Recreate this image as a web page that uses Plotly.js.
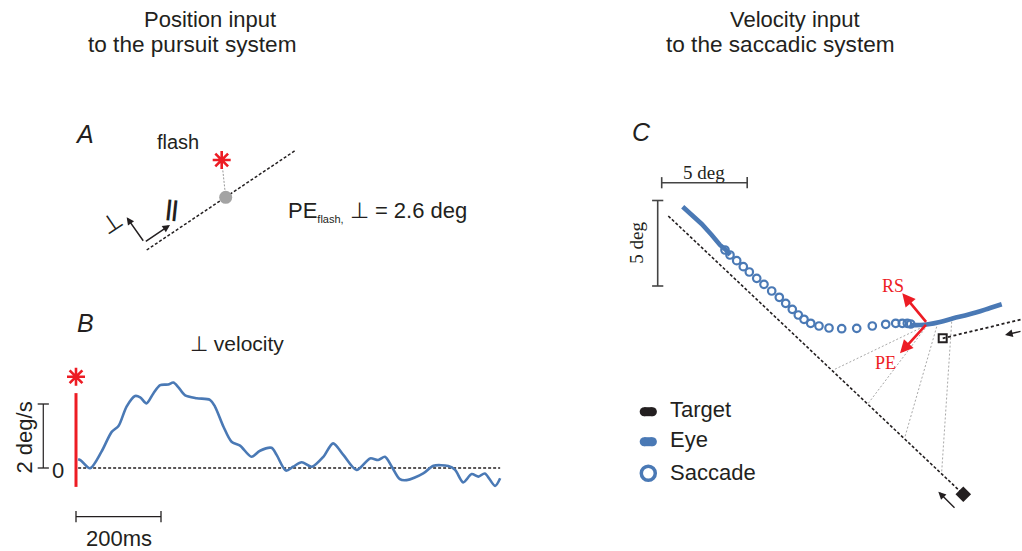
<!DOCTYPE html>
<html><head><meta charset="utf-8">
<script src="https://cdn.plot.ly/plotly-3.0.1.min.js"></script>
<style>html,body{margin:0;padding:0;background:#fff}#chart{width:1022px;height:551px}</style>
</head><body><div id="chart"></div>
<script>
// ---------------- DATA ----------------
// Panel A (schematic, units: deg, origin at eye position when flash appears)
const lineA_x = [-5.486, 4.813];
const lineA_y = [-3.660, 3.236];
const flashA_x = [-0.278];
const flashA_y = [2.590];
const eyeA_x = [0];
const eyeA_y = [0];
const axisOriginA = [-5.653, -3.125];
const perpTipA = [-6.875, -1.389];
const parTipA = [-3.868, -1.924];

// Panel B (time in ms after flash, perpendicular eye velocity in deg/s)
const tB = [5,11,33,60,84,100,119,139,151,166,182,198,217,229,241,256,284,315,327,347,366,386,413,433,460,472,494,511,531,555,582,605,629,660,692,711,727,743,762,778,817,841,876,892,911,931,947,962,986,998];
const vB = [0.27,0.24,-0.01,0.51,1.13,1.31,1.92,2.25,2.21,2.02,2.33,2.59,2.61,2.67,2.52,2.28,2.18,2.13,1.92,1.29,0.82,0.70,0.35,0.54,0.63,0.41,-0.08,0.04,0.18,0.04,0.35,0.77,0.41,-0.06,0.30,0.25,0.35,0.04,-0.35,-0.38,-0.17,0.07,0.06,-0.06,-0.45,-0.19,-0.27,-0.17,-0.56,-0.32];
const flashLineB_v = [-0.59, 2.34];
const flashStarB_v = 2.85;
const zeroLineB_t = [5, 998];
const scaleB_t = [0, 200];      // 200 ms
const scaleB_v = [0, 2];        // 2 deg/s
const scaleB_tPos = -77;
const scaleB_vPos = -1.52;

// Panel C (positions in deg)
const eyePre_x = [1.228,1.754,2.339,2.924,3.409,3.760,3.994];
const eyePre_y = [4.637,4.152,3.626,2.982,2.398,2.105,1.813];
const sacc_x = [3.702,3.994,4.386,4.772,5.123,5.556,5.982,6.433,6.877,7.251,7.637,7.988,8.322,8.713,9.199,9.784,10.526,11.404,12.316,13.099,13.684,14.070,14.363,14.561];
const sacc_y = [2.105,1.813,1.480,1.129,0.819,0.450,0.099,-0.292,-0.661,-1.012,-1.363,-1.696,-1.947,-2.181,-2.339,-2.456,-2.497,-2.474,-2.339,-2.240,-2.181,-2.181,-2.181,-2.222];
const eyePost_x = [14.520,15.105,15.591,16.275,17.053,17.737,18.421,19.199,19.883];
const eyePost_y = [-2.281,-2.281,-2.240,-2.105,-1.889,-1.725,-1.538,-1.287,-1.070];
const target1_x = [0.386, 17.637];
const target1_y = [4.094, -12.181];
const target2_x = [16.433, 21.3];
const target2_y = [-3.058, -1.892];
const links_x = [15.298,10.035,null,15.398,12.082,null,16.082,14.228,null,16.959,16.374];
const links_y = [-2.380,-4.912,null,-2.474,-6.860,null,-2.380,-8.813,null,-2.088,-10.860];
const vertexC = [15.532, -2.181];
const rsTip = [14.070, -0.427];
const peTip = [13.936, -3.936];
const arrow1Tail = [17.211, -13.058], arrow1Tip = [16.175, -12.029];
const arrow2Tail = [21.07, -2.632],  arrow2Tip = [20.076, -2.865];
const scaleC_x = [0, 5], scaleC_xPos = 6.04;   // 5 deg
const scaleC_y = [0, 5], scaleC_yPos = -0.234; // 5 deg
const legendLabels = ['Target', 'Eye', 'Saccade'];
const legendY = [-7.351, -9.105, -10.953];
const legendX = -0.784;

// ---------------- LAYOUT HELPERS ----------------
const W = 1022, H = 551;
const INK = '#231f20', BLUE = '#4a79b5', RED = '#ed1c24', GRAY = '#a3a3a3';
function xAxis(l, r, o, s) { return {domain:[l/W, r/W], range:[(l-o)/s, (r-o)/s], visible:false, fixedrange:true}; }
function yAxis(t, b, o, s) { return {domain:[1-b/H, 1-t/H], range:[(o-b)/s, (o-t)/s], visible:false, fixedrange:true}; }
function label(text, px, py, o) {
  o = o || {};
  return Object.assign({xref:'paper', yref:'paper', x:px/W, y:1-py/H, text:text, showarrow:false,
    xanchor:'center', yanchor:'middle', borderpad:0,
    font:{family:'Liberation Sans, Arial, sans-serif', size:22, color:INK}}, o);
}
function arrow(ax, ay, tail, tip, color, width, size) {
  return {xref:ax, yref:ay, axref:ax, ayref:ay, x:tip[0], y:tip[1], ax:tail[0], ay:tail[1],
    text:'', showarrow:true, arrowhead:2, arrowsize:size, arrowwidth:width, arrowcolor:color, standoff:0};
}

const dash = '3px,2px';
const traces = [
  // ---- Panel A
  {x:lineA_x, y:lineA_y, xaxis:'x', yaxis:'y', mode:'lines', line:{color:INK, width:1.5, dash:dash}},
  {x:[flashA_x[0], eyeA_x[0]], y:[flashA_y[0], eyeA_y[0]], xaxis:'x', yaxis:'y', mode:'lines', line:{color:'#999', width:1, dash:'2px,1.5px'}},
  {x:eyeA_x, y:eyeA_y, xaxis:'x', yaxis:'y', mode:'markers', marker:{symbol:'circle', size:13, color:GRAY}},
  {x:flashA_x, y:flashA_y, xaxis:'x', yaxis:'y', mode:'markers', marker:{symbol:'asterisk-open', size:15, color:RED, line:{width:2.6, color:RED}}},
  // ---- Panel B
  {x:zeroLineB_t, y:[0,0], xaxis:'x2', yaxis:'y2', mode:'lines', line:{color:INK, width:1.4, dash:dash}},
  {x:[0,0], y:flashLineB_v, xaxis:'x2', yaxis:'y2', mode:'lines', line:{color:RED, width:3}},
  {x:[0], y:[flashStarB_v], xaxis:'x2', yaxis:'y2', mode:'markers', marker:{symbol:'asterisk-open', size:15, color:RED, line:{width:2.6, color:RED}}},
  {x:tB, y:vB, xaxis:'x2', yaxis:'y2', mode:'lines', line:{color:BLUE, width:2.6, shape:'spline', smoothing:0.8}},
  {x:[scaleB_tPos, scaleB_tPos], y:scaleB_v, xaxis:'x2', yaxis:'y2', mode:'lines+markers', line:{color:INK, width:1.2}, marker:{symbol:'line-ew', size:8, line:{width:1.3, color:INK}}},
  {x:scaleB_t, y:[scaleB_vPos, scaleB_vPos], xaxis:'x2', yaxis:'y2', mode:'lines+markers', line:{color:INK, width:1.2}, marker:{symbol:'line-ns', size:8, line:{width:1.3, color:INK}}},
  // ---- Panel C
  {x:links_x, y:links_y, xaxis:'x3', yaxis:'y3', mode:'lines', line:{color:'#a8a8a8', width:1, dash:'2px,2px'}},
  {x:target1_x, y:target1_y, xaxis:'x3', yaxis:'y3', mode:'lines', line:{color:INK, width:1.6, dash:dash}},
  {x:target2_x, y:target2_y, xaxis:'x3', yaxis:'y3', mode:'lines', line:{color:INK, width:1.8, dash:'3px,2.5px'}},
  {x:eyePre_x, y:eyePre_y, xaxis:'x3', yaxis:'y3', mode:'lines', line:{color:BLUE, width:4.6}},
  {x:eyePost_x, y:eyePost_y, xaxis:'x3', yaxis:'y3', mode:'lines', line:{color:BLUE, width:4.6, shape:'spline'}},
  {x:sacc_x, y:sacc_y, xaxis:'x3', yaxis:'y3', mode:'markers', marker:{symbol:'circle-open', size:7.5, color:BLUE, line:{width:2.2, color:BLUE}}},
  {x:[target1_x[1]], y:[target1_y[1]], xaxis:'x3', yaxis:'y3', mode:'markers', marker:{symbol:'diamond', size:12, color:INK}},
  {x:[target2_x[0]], y:[target2_y[0]], xaxis:'x3', yaxis:'y3', mode:'markers', marker:{symbol:'square-open', size:8, color:INK, line:{width:2, color:INK}}},
  {x:scaleC_x, y:[scaleC_xPos, scaleC_xPos], xaxis:'x3', yaxis:'y3', mode:'lines+markers', line:{color:'#444', width:1.6}, marker:{symbol:'line-ns', size:8, line:{width:1.6, color:'#444'}}},
  {x:[scaleC_yPos, scaleC_yPos], y:scaleC_y, xaxis:'x3', yaxis:'y3', mode:'lines+markers', line:{color:'#444', width:1.6}, marker:{symbol:'line-ew', size:8, line:{width:1.6, color:'#444'}}},
  // legend swatches
  {x:[legendX-0.24, legendX+0.24], y:[legendY[0], legendY[0]], xaxis:'x3', yaxis:'y3', mode:'lines+markers', line:{color:INK, width:9}, marker:{symbol:'circle', size:9, color:INK}},
  {x:[legendX-0.24, legendX+0.24], y:[legendY[1], legendY[1]], xaxis:'x3', yaxis:'y3', mode:'lines+markers', line:{color:BLUE, width:9}, marker:{symbol:'circle', size:9, color:BLUE}},
  {x:[legendX], y:[legendY[2]], xaxis:'x3', yaxis:'y3', mode:'markers', marker:{symbol:'circle-open', size:14, color:BLUE, line:{width:3.5, color:BLUE}}}
];

const serif = 'Liberation Serif, Times New Roman, serif';
const annotations = [
  label('Position input', 143, 19.5, {xanchor:'left'}),
  label('to the pursuit system', 87, 44.5, {xanchor:'left', font:{family:'Liberation Sans, Arial, sans-serif', size:22.6, color:INK}}),
  label('Velocity input', 729, 19.5, {xanchor:'left'}),
  label('to the saccadic system', 665, 44.5, {xanchor:'left', font:{family:'Liberation Sans, Arial, sans-serif', size:22.6, color:INK}}),
  label('<i>A</i>', 84, 133.7, {font:{family:'Liberation Sans, Arial', size:25, color:INK}}),
  label('flash', 177.5, 142.5, {font:{family:'Liberation Sans, Arial', size:20, color:INK}}),
  label('⊥', 111.7, 222.5, {textangle:-34, font:{family:'DejaVu Sans', size:24, color:INK}}),
  label('<b>||</b>', 172.3, 208.3, {textangle:6, font:{family:'Liberation Sans, Arial', size:22, color:INK}}),
  label('PE<sub><span style="font-size:11px">flash,</span></sub> ⊥ = 2.6 deg', 286.7, 211.7, {xanchor:'left'}),
  label('<i>B</i>', 85.8, 323.3, {font:{family:'Liberation Sans, Arial', size:25, color:INK}}),
  label('⊥ velocity', 237, 343, {font:{family:'Liberation Sans, Arial', size:21, color:INK}}),
  label('2 deg/s', 24, 437.5, {textangle:-90}),
  label('0', 58.3, 470),
  label('200ms', 119, 538.5),
  label('<i>C</i>', 641.7, 131.7, {font:{family:'Liberation Sans, Arial', size:25, color:INK}}),
  label('5 deg', 704.3, 173, {font:{family:serif, size:19, color:INK}}),
  label('5 deg', 636.5, 243.3, {textangle:-90, font:{family:serif, size:19, color:INK}}),
  label('RS', 892.5, 286, {font:{family:serif, size:18, color:RED}}),
  label('PE', 885.5, 363.3, {font:{family:serif, size:18, color:RED}}),
  label(legendLabels[0], 669.3, 409, {xanchor:'left'}),
  label(legendLabels[1], 669.3, 439, {xanchor:'left'}),
  label(legendLabels[2], 669.3, 472.7, {xanchor:'left'}),
  // arrows
  arrow('x', 'y', axisOriginA, perpTipA, INK, 1.5, 1),
  arrow('x', 'y', axisOriginA, parTipA, INK, 1.5, 1),
  arrow('x3', 'y3', vertexC, rsTip, RED, 2.6, 1),
  arrow('x3', 'y3', vertexC, peTip, RED, 2.6, 1),
  arrow('x3', 'y3', arrow1Tail, arrow1Tip, INK, 1.4, 1.1),
  arrow('x3', 'y3', arrow2Tail, arrow2Tip, INK, 1.4, 1.1)
];

const layout = {
  width:W, height:H, margin:{l:0, r:0, t:0, b:0},
  paper_bgcolor:'#fff', plot_bgcolor:'rgba(0,0,0,0)', showlegend:false,
  xaxis: Object.assign(xAxis(40, 520, 225.7, 14.4), {anchor:'y'}),
  yaxis: Object.assign(yAxis(100, 280, 197.3, 14.4), {anchor:'x'}),
  xaxis2: Object.assign(xAxis(0, 520, 76, 0.425), {anchor:'y2'}),
  yaxis2: Object.assign(yAxis(290, 551, 468, 32), {anchor:'x2'}),
  xaxis3: Object.assign(xAxis(600, 1022, 661.7, 17.1), {anchor:'y3'}),
  yaxis3: Object.assign(yAxis(100, 551, 286, 17.1), {anchor:'x3'}),
  annotations: annotations
};
Plotly.newPlot('chart', traces, layout, {displayModeBar:false, staticPlot:true});
</script></body></html>
